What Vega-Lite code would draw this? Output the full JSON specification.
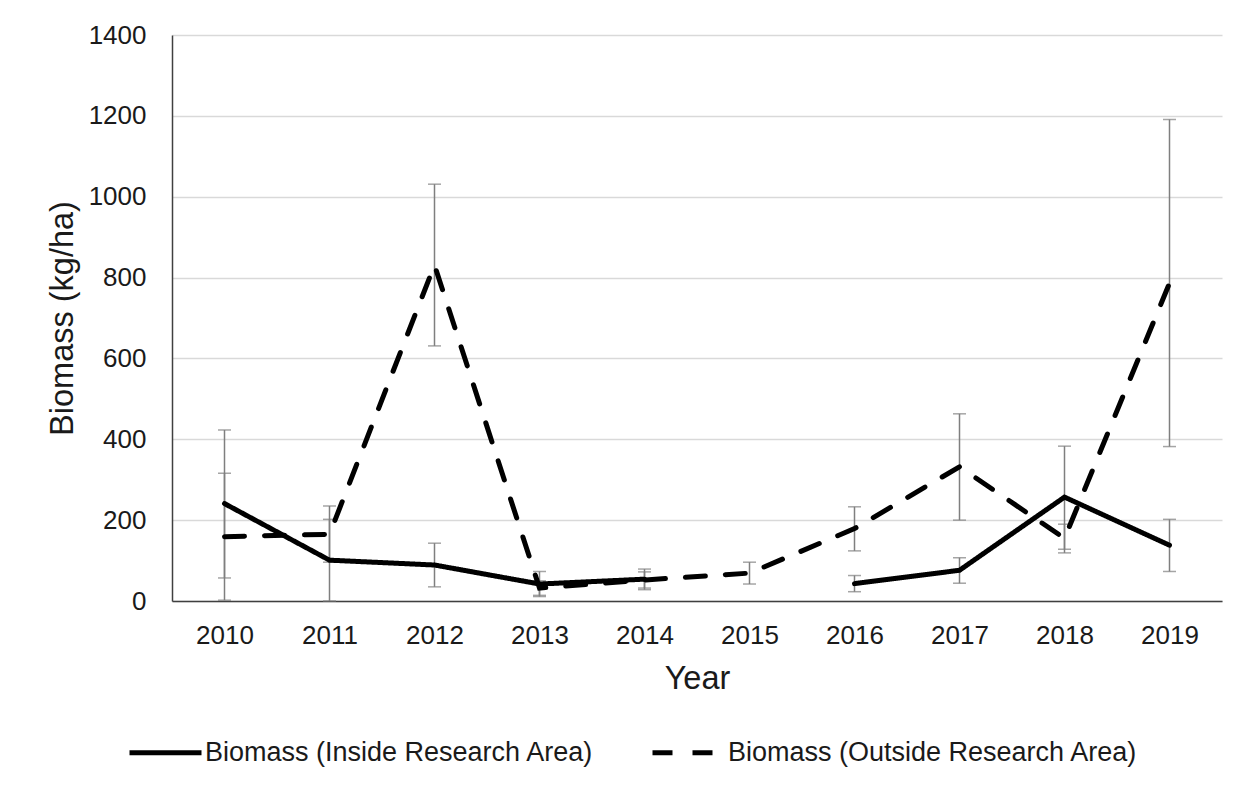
{
  "$schema": "https://vega.github.io/schema/vega-lite/v6.json",
  "width": 1050,
  "height": 566,
  "autosize": {"type": "none"},
  "padding": {"left": 172, "top": 35, "right": 27, "bottom": 188},
  "background": "white",
  "config": {
    "view": {"stroke": null},
    "font": "Liberation Sans",
    "axis": {"labelFont": "Liberation Sans", "titleFont": "Liberation Sans", "labelColor": "#1a1a1a", "titleColor": "#1a1a1a", "titleFontWeight": "normal"},
    "legend": {"labelFont": "Liberation Sans"}
  },
  "data": {
    "values": [
      {"year": "2010", "series": "Biomass (Inside Research Area)", "biomass": 241, "lo": 57, "hi": 423},
      {"year": "2011", "series": "Biomass (Inside Research Area)", "biomass": 101, "lo": 0, "hi": 202},
      {"year": "2012", "series": "Biomass (Inside Research Area)", "biomass": 89, "lo": 35, "hi": 143},
      {"year": "2013", "series": "Biomass (Inside Research Area)", "biomass": 42, "lo": 11, "hi": 73},
      {"year": "2014", "series": "Biomass (Inside Research Area)", "biomass": 54, "lo": 28, "hi": 79},
      {"year": "2015", "series": "Biomass (Inside Research Area)", "biomass": null, "lo": null, "hi": null},
      {"year": "2016", "series": "Biomass (Inside Research Area)", "biomass": 43, "lo": 23, "hi": 63},
      {"year": "2017", "series": "Biomass (Inside Research Area)", "biomass": 76, "lo": 44, "hi": 107},
      {"year": "2018", "series": "Biomass (Inside Research Area)", "biomass": 257, "lo": 128, "hi": 383},
      {"year": "2019", "series": "Biomass (Inside Research Area)", "biomass": 138, "lo": 73, "hi": 202},
      {"year": "2010", "series": "Biomass (Outside Research Area)", "biomass": 159, "lo": 2, "hi": 316},
      {"year": "2011", "series": "Biomass (Outside Research Area)", "biomass": 165, "lo": 96, "hi": 235},
      {"year": "2012", "series": "Biomass (Outside Research Area)", "biomass": 831, "lo": 631, "hi": 1031},
      {"year": "2013", "series": "Biomass (Outside Research Area)", "biomass": 32, "lo": 14, "hi": 50},
      {"year": "2014", "series": "Biomass (Outside Research Area)", "biomass": 52, "lo": 32, "hi": 72},
      {"year": "2015", "series": "Biomass (Outside Research Area)", "biomass": 69, "lo": 42, "hi": 96},
      {"year": "2016", "series": "Biomass (Outside Research Area)", "biomass": 179, "lo": 124, "hi": 233},
      {"year": "2017", "series": "Biomass (Outside Research Area)", "biomass": 332, "lo": 200, "hi": 463},
      {"year": "2018", "series": "Biomass (Outside Research Area)", "biomass": 155, "lo": 119, "hi": 190},
      {"year": "2019", "series": "Biomass (Outside Research Area)", "biomass": 786, "lo": 382, "hi": 1191}
    ]
  },
  "encoding": {
    "x": {
      "field": "year", "type": "ordinal",
      "scale": {"type": "point", "padding": 0.5},
      "axis": {
        "title": "Year", "labelAngle": 0, "labelFontSize": 26, "labelPadding": 21, "ticks": false, "tickSize": 0,
        "domainColor": "#404040", "domainWidth": 1.5, "grid": false,
        "titleFontSize": 32.5, "titleBaseline": "alphabetic", "titleY": 87
      }
    }
  },
  "layer": [
    {
      "transform": [{"filter": "datum.lo != null"}],
      "mark": {"type": "errorbar", "ticks": {"size": 13}, "color": "#7f7f7f", "thickness": 1.5},
      "encoding": {
        "y": {"field": "lo", "type": "quantitative", "title": "Biomass (kg/ha)"},
        "y2": {"field": "hi"},
        "detail": {"field": "series"}
      }
    },
    {
      "mark": {"type": "line", "color": "black", "strokeWidth": 5, "strokeCap": "round", "strokeJoin": "miter"},
      "encoding": {
        "y": {
          "field": "biomass", "type": "quantitative", "title": "Biomass (kg/ha)",
          "scale": {"domain": [0, 1400], "nice": false},
          "axis": {
            "values": [0, 200, 400, 600, 800, 1000, 1200, 1400], "format": "d",
            "labelFontSize": 26, "labelPadding": 26, "ticks": false, "tickSize": 0,
            "domainColor": "#404040", "domainWidth": 1.5,
            "grid": true, "gridColor": "#d9d9d9", "gridWidth": 1.5,
            "titleFontSize": 32.5, "titleBaseline": "alphabetic", "titleX": -100
          }
        },
        "strokeDash": {
          "field": "series", "type": "nominal",
          "scale": {"domain": ["Biomass (Inside Research Area)", "Biomass (Outside Research Area)"], "range": [[1, 0], [20, 20]]},
          "legend": {
            "title": null, "orient": "none", "legendX": -45, "legendY": 679, "direction": "horizontal",
            "symbolType": "stroke", "symbolSize": 5184, "symbolStrokeWidth": 5, "symbolStrokeColor": "black",
            "labelFontSize": 27, "labelColor": "#1a1a1a", "labelOffset": 1, "labelLimit": 600, "columnPadding": 48
          }
        }
      }
    }
  ]
}
